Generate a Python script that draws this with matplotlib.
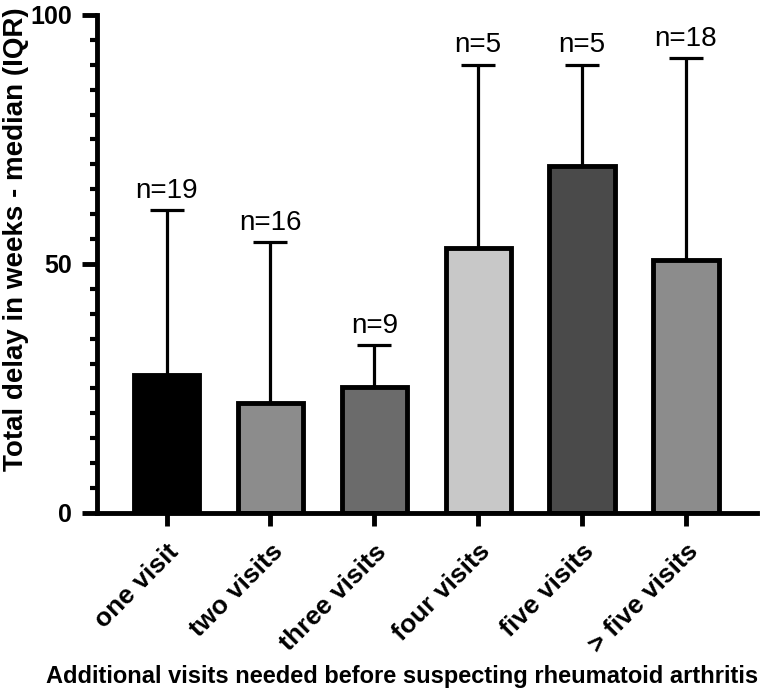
import matplotlib
matplotlib.use("Agg")
import matplotlib.pyplot as plt
from matplotlib import font_manager
from matplotlib.ticker import MultipleLocator

# данные: медиана и верхняя граница IQR (недели)
categories = ["one visit", "two visits", "three visits", "four visits", "five visits", "> five visits"]
medians = [27.8, 22.0, 25.4, 53.2, 69.6, 50.8]
upper_iqr = [60.8, 54.4, 33.7, 90.0, 90.0, 91.3]
n_labels = ["n=19", "n=16", "n=9", "n=5", "n=5", "n=18"]
bar_colors = ["#000000", "#8c8c8c", "#6b6b6b", "#c8c8c8", "#4a4a4a", "#8c8c8c"]

names = {f.name for f in font_manager.fontManager.ttflist}
base_font = "Liberation Sans" if "Liberation Sans" in names else "DejaVu Sans"
plt.rcParams["font.family"] = [base_font, "DejaVu Sans"]

fig = plt.figure(figsize=(7.6, 6.91), dpi=100)
ax = fig.add_axes([0.1276, 0.2576, 0.868, 0.7207])

x = list(range(len(categories)))
lower = [0] * len(medians)
upper = [u - m for u, m in zip(upper_iqr, medians)]

ax.errorbar(x, medians, yerr=[lower, upper], fmt="none", ecolor="black",
            elinewidth=2.3, capsize=12, capthick=2.3, zorder=1)
ax.bar(x, medians, width=0.63, color=bar_colors, edgecolor="black",
       linewidth=3.5, zorder=2)

for xi, top, lab in zip(x, upper_iqr, n_labels):
    ax.annotate(lab, (xi, top), xytext=(0, 9), textcoords="offset points",
                ha="center", va="baseline", fontsize=20)

ax.set_xlim(-0.67, 5.68)
ax.set_ylim(0, 100)
ax.set_yticks([0, 50, 100])
ax.yaxis.set_minor_locator(MultipleLocator(5))

ax.spines["top"].set_visible(False)
ax.spines["right"].set_visible(False)
for side in ["left", "bottom"]:
    ax.spines[side].set_linewidth(3.5)

ax.tick_params(axis="y", which="major", length=11, width=3.5, pad=7,
               labelsize=18)
ax.tick_params(axis="y", which="minor", length=5, width=3.0)
ax.tick_params(axis="x", which="major", length=9, width=3.5, pad=10)
for t in ax.get_yticklabels():
    t.set_fontweight("bold")

ax.set_xticks(x)
ax.set_xticklabels(categories, rotation=45, ha="right", va="top",
                   rotation_mode="anchor", fontsize=19, fontweight="bold")

ax.set_ylabel("Total delay in weeks - median (IQR)", fontsize=20,
              fontweight="bold")
ax.yaxis.set_label_coords(-0.103, 0.55)
fig.text(0.529, 0.012, "Additional visits needed before suspecting rheumatoid arthritis",
         ha="center", va="baseline", fontsize=17, fontweight="bold")

fig.savefig("out.png", dpi=100)
